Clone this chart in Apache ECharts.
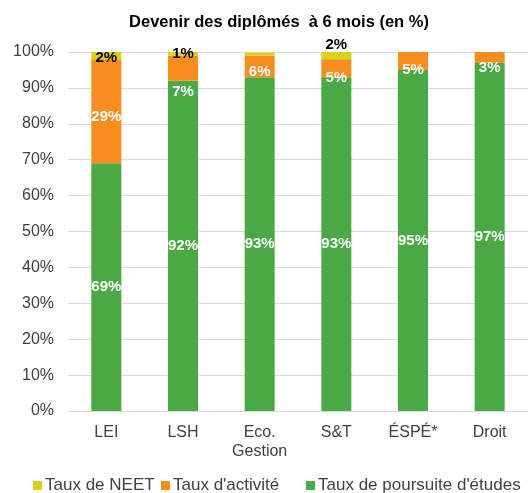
<!DOCTYPE html>
<html>
<head>
<meta charset="utf-8">
<script src="https://cdn.jsdelivr.net/npm/echarts@6/dist/echarts.min.js"></script>
<style>
html, body { margin: 0; padding: 0; background: #fff; }
#chart { width: 528px; height: 493px; }
</style>
</head>
<body>
<div id="chart"></div>
<script>
// catégories et valeurs (en %)
var categories = ['LEI', 'LSH', 'Eco.\nGestion', 'S&T', 'ÉSPÉ*', 'Droit'];
var poursuite = [69, 92, 93, 93, 95, 97];
var activite = [29, 7, 6, 5, 5, 3];
var neet = [2, 1, 0.8, 2, 0, 0];
var yTicks = [0, 10, 20, 30, 40, 50, 60, 70, 80, 90, 100];
var seriesNames = ['Taux de NEET', "Taux d'activité", "Taux de poursuite d'études"];

var labelFont = {
	fontFamily : 'Liberation Sans',
	fontSize : 15,
	fontWeight : 'bold'
};

function pct(p) {
	return p.value >= 1 ? Math.round(p.value) + '%' : '';
}

// quelques étiquettes déplacées comme dans l'original
var activiteData = activite.map(function(v, i) {
	var item = { value : v };
	if (i === 0) item.label = { position : 'insideTop', distance : 50 };
	if (i === 1) item.label = { position : 'inside', offset : [0, 24] };
	if (i === 2) item.label = { position : 'inside', offset : [0, 5] };
	if (i === 3) item.label = { position : 'inside', offset : [0, 10] };
	if (i === 4) item.label = { position : 'inside', offset : [0, 9] };
	if (i === 5) item.label = { position : 'inside', offset : [0, 10] };
	return item;
});
var neetData = neet.map(function(v, i) {
	var item = { value : v };
	if (i === 0) item.label = { position : 'inside', offset : [0, 2] };
	if (i === 3) item.label = { position : 'top', distance : 0 };
	return item;
});

// une légende par série pour placer chaque élément
var legendLeft = [33, 161, 306];
var legends = seriesNames.map(function(name, i) {
	return {
		top : 477,
		left : legendLeft[i],
		padding : 0,
		itemWidth : 9,
		itemHeight : 9,
		icon : 'rect',
		textStyle : {
			fontFamily : 'Liberation Sans',
			fontSize : 17,
			color : '#404040',
			padding : [0, 0, 0, -2]
		},
		data : [name]
	};
});

var chart = echarts.init(document.getElementById('chart'));
chart.setOption({
	animation : false,
	textStyle : { fontFamily : 'Liberation Sans' },
	title : {
		text : 'Devenir des diplômés  à 6 mois (en %)',
		left : 279,
		textAlign : 'center',
		top : 14,
		padding : 0,
		textStyle : {
			fontFamily : 'Liberation Sans',
			fontSize : 16.5,
			fontWeight : 'bold',
			color : '#000'
		}
	},
	legend : legends,
	grid : {
		left : 68,
		right : -5,
		top : 52,
		bottom : 82,
		containLabel : false
	},
	xAxis : {
		type : 'category',
		data : categories,
		axisTick : { show : false },
		axisLine : { lineStyle : { color : '#d9d9d9' } },
		axisLabel : {
			fontSize : 16,
			color : '#404040',
			margin : 12,
			lineHeight : 19,
			interval : 0
		}
	},
	yAxis : {
		type : 'value',
		min : 0,
		max : 100,
		interval : 10,
		axisLabel : {
			fontSize : 16,
			color : '#404040',
			margin : 14,
			formatter : function(v) {
				return yTicks.indexOf(v) >= 0 ? v + '%' : '';
			}
		},
		splitLine : { lineStyle : { color : '#d9d9d9' } },
		axisLine : { show : false },
		axisTick : { show : false }
	},
	series : [ {
		name : seriesNames[2],
		type : 'bar',
		stack : 'total',
		barWidth : 30,
		itemStyle : { color : '#4aa944' },
		label : Object.assign({ show : true, position : 'inside', color : '#fff', formatter : pct }, labelFont),
		data : poursuite
	}, {
		name : seriesNames[1],
		type : 'bar',
		stack : 'total',
		itemStyle : { color : '#f68d1f' },
		label : Object.assign({ show : true, position : 'inside', color : '#fff', formatter : pct }, labelFont),
		data : activiteData
	}, {
		name : seriesNames[0],
		type : 'bar',
		stack : 'total',
		itemStyle : { color : '#d6d31a' },
		label : Object.assign({ show : true, position : 'inside', color : '#000', formatter : pct }, labelFont),
		data : neetData
	} ]
});
</script>
</body>
</html>
